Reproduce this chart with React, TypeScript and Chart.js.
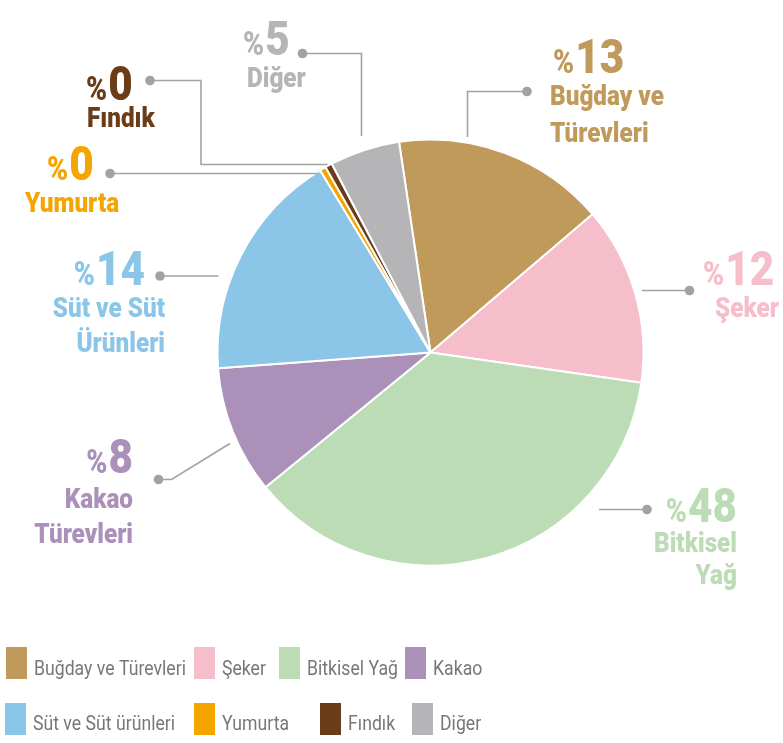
import React, { useEffect, useRef } from "react";
import { Chart, registerables } from "chart.js";

Chart.register(...registerables);

// ---- data ----
const categories = [
  "Buğday ve Türevleri",
  "Şeker",
  "Bitkisel Yağ",
  "Kakao",
  "Süt ve Süt ürünleri",
  "Yumurta",
  "Fındık",
  "Diğer",
];
// slice sizes as drawn in the picture (share of the circle, %)
const sliceShares = [16.1, 13.5, 36.8, 9.7, 17.5, 0.47, 0.53, 5.3];
// percentages printed in the callouts
const shownPercents = ["13", "12", "48", "8", "14", "0", "0", "5"];
const calloutNames = [
  ["Buğday ve", "Türevleri"],
  ["Şeker"],
  ["Bitkisel", "Yağ"],
  ["Kakao", "Türevleri"],
  ["Süt ve Süt", "Ürünleri"],
  ["Yumurta"],
  ["Fındık"],
  ["Diğer"],
];
const sliceColors = [
  "#c09a5b",
  "#f6bdca",
  "#bcdcb6",
  "#ab91b9",
  "#8bc5e8",
  "#f5a500",
  "#6a3d18",
  "#b5b4b6",
];

// ---- layout (annotation placement only) ----
type Align = "left" | "right";
const calloutLayout: {
  numX: number; numY: number; numAlign: Align;
  nameX: number; nameY: number[]; nameAlign: Align;
  path: [number, number][];
}[] = [
  { numX: 553, numY: 73, numAlign: "left", nameX: 550, nameY: [105, 141.5], nameAlign: "left", path: [[527, 91.5], [467.5, 91.5], [467.5, 137]] },
  { numX: 703, numY: 285, numAlign: "left", nameX: 715, nameY: [316.5], nameAlign: "left", path: [[689.5, 290.5], [642, 290.5]] },
  { numX: 737, numY: 521.5, numAlign: "right", nameX: 737, nameY: [551.5, 584], nameAlign: "right", path: [[647, 509.5], [599, 509.5]] },
  { numX: 133, numY: 473, numAlign: "right", nameX: 133, nameY: [508, 543], nameAlign: "right", path: [[158.5, 479.5], [171.5, 479.5], [230, 443.5]] },
  { numX: 145, numY: 285, numAlign: "right", nameX: 165, nameY: [316.5, 351.5], nameAlign: "right", path: [[160, 276], [218.5, 276]] },
  { numX: 47, numY: 180, numAlign: "left", nameX: 25, nameY: [211.5], nameAlign: "left", path: [[110, 173.5], [318, 173.5]] },
  { numX: 86, numY: 100, numAlign: "left", nameX: 87, nameY: [126.5], nameAlign: "left", path: [[150, 80.5], [201, 80.5], [201, 164.5], [327.5, 164.5]] },
  { numX: 243, numY: 55, numAlign: "left", nameX: 247, nameY: [87], nameAlign: "left", path: [[302.5, 53.5], [361.5, 53.5], [361.5, 136]] },
];
const legendRows = [
  { y: 647, baseline: 675, items: [0, 1, 2, 3], xs: [6, 194, 279, 405] },
  { y: 703, baseline: 730, items: [4, 5, 6, 7], xs: [5, 194, 320, 412] },
];

const FAMILY = 'Roboto, "Noto Sans", sans-serif';
const PCT_FONT = `900 33px ${FAMILY}`;
const NUM_FONT = `900 49px ${FAMILY}`;
const NAME_FONT = `900 28px ${FAMILY}`;
const LEGEND_FONT = `21px ${FAMILY}`;

function fitScale(ctx: CanvasRenderingContext2D, font: string, sample: string, target: number) {
  ctx.font = font;
  const w = ctx.measureText(sample).width;
  return w > 0 ? Math.min(1, target / w) : 1;
}

function drawText(ctx: CanvasRenderingContext2D, text: string, x: number, y: number, sx: number) {
  ctx.save();
  ctx.translate(x, y);
  ctx.scale(sx, 1);
  ctx.textAlign = "left";
  ctx.fillText(text, 0, 0);
  ctx.restore();
}

const calloutPlugin = {
  id: "callouts",
  afterDraw(chart: any) {
    const ctx: CanvasRenderingContext2D = chart.ctx;
    ctx.save();
    // leader lines
    calloutLayout.forEach((c) => {
      ctx.strokeStyle = "#a3a3a3";
      ctx.lineWidth = 1.6;
      ctx.beginPath();
      c.path.forEach(([x, y], i) => (i === 0 ? ctx.moveTo(x, y) : ctx.lineTo(x, y)));
      ctx.stroke();
      ctx.fillStyle = "#a2a2a4";
      ctx.beginPath();
      ctx.arc(c.path[0][0], c.path[0][1], 4.8, 0, Math.PI * 2);
      ctx.fill();
    });
    ctx.textBaseline = "alphabetic";
    const sxNum = fitScale(ctx, NUM_FONT, "48", 49);
    const sxPct = sxNum;
    const sxName = fitScale(ctx, NAME_FONT, "Bitkisel", 83);
    const sxLeg = fitScale(ctx, LEGEND_FONT, "Buğday ve Türevleri", 152);

    calloutLayout.forEach((c, i) => {
      ctx.fillStyle = sliceColors[i];
      ctx.font = PCT_FONT;
      const wp = ctx.measureText("%").width * sxPct;
      ctx.font = NUM_FONT;
      const wn = ctx.measureText(shownPercents[i]).width * sxNum;
      const total = wp + 1 + wn;
      const startX = c.numAlign === "left" ? c.numX : c.numX - total;
      ctx.font = PCT_FONT;
      drawText(ctx, "%", startX, c.numY, sxPct);
      ctx.font = NUM_FONT;
      drawText(ctx, shownPercents[i], startX + wp + 1, c.numY, sxNum);
      ctx.font = NAME_FONT;
      calloutNames[i].forEach((line, k) => {
        const w = ctx.measureText(line).width * sxName;
        const x = c.nameAlign === "left" ? c.nameX : c.nameX - w;
        drawText(ctx, line, x, c.nameY[k], sxName);
      });
    });
    // legend
    ctx.font = LEGEND_FONT;
    legendRows.forEach((row) => {
      row.items.forEach((idx, k) => {
        const x = row.xs[k];
        ctx.fillStyle = sliceColors[idx];
        ctx.fillRect(x, row.y, 21, 32);
        ctx.fillStyle = "#7a7676";
        drawText(ctx, categories[idx], x + 28, row.baseline, sxLeg);
      });
    });
    ctx.restore();
  },
};

export default function App() {
  const canvasRef = useRef<HTMLCanvasElement | null>(null);

  useEffect(() => {
    if (!canvasRef.current) return;
    const chart = new Chart(canvasRef.current, {
      type: "pie",
      data: {
        labels: categories,
        datasets: [
          {
            data: sliceShares,
            backgroundColor: sliceColors,
            borderColor: "#ffffff",
            borderWidth: 2,
          },
        ],
      },
      options: {
        responsive: false,
        animation: false,
        events: [],
        rotation: -8.5,
        radius: 213,
        layout: { padding: { left: 218, right: 140, top: 140, bottom: 178 } },
        plugins: {
          legend: { display: false },
          tooltip: { enabled: false },
        },
      } as any,
      plugins: [calloutPlugin],
    });
    return () => chart.destroy();
  }, []);

  return (
    <div style={{ position: "absolute", left: 0, top: 0, width: 783, height: 743, background: "#ffffff" }}>
      <canvas ref={canvasRef} width={783} height={743} style={{ display: "block" }} />
    </div>
  );
}
